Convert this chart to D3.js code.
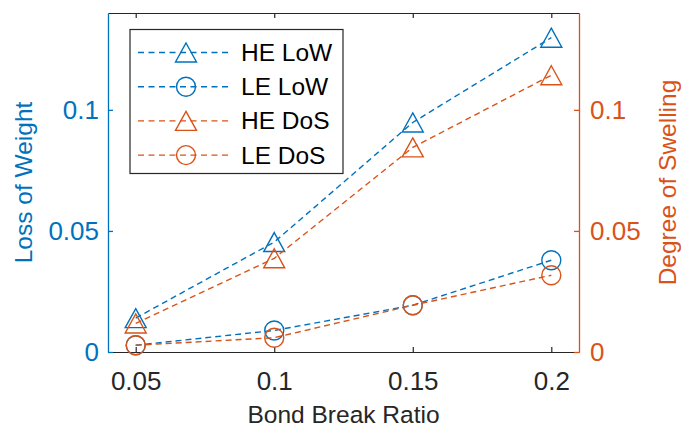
<!DOCTYPE html>
<html>
<head>
<meta charset="utf-8">
<script src="https://cdn.jsdelivr.net/npm/d3@7"></script>
<style>
  body { margin: 0; background: #fff; }
  svg { font-family: "Liberation Sans", Arial, sans-serif; }
</style>
</head>
<body>
<svg id="chart" width="681" height="430"></svg>
<script>
// data
var ratios = [0.05, 0.1, 0.15, 0.2];
var heLoW = [0.0140, 0.0454, 0.0948, 0.1298];
var leLoW = [0.0028, 0.0089, 0.0193, 0.0379];
var heDoS = [0.0118, 0.0387, 0.0845, 0.1143];
var leDoS = [0.0028, 0.0059, 0.0193, 0.0317];
var xTicks = [0.05, 0.1, 0.15, 0.2];
var xTickLabels = ['0.05', '0.1', '0.15', '0.2'];
var yTicks = [0, 0.05, 0.1];
var yTickLabels = ['0', '0.05', '0.1'];
var legendNames = ['HE LoW', 'LE LoW', 'HE DoS', 'LE DoS'];

var BLUE = '#0072BD', ORANGE = '#D95319', GRAY = '#262626';

var svg = d3.select('#chart');
var plotLeft = 108, plotRight = 579, plotTop = 13, plotBottom = 352;

var x = d3.scaleLinear().domain([0.04, 0.21]).range([plotLeft, plotRight]);
var yL = d3.scaleLinear().domain([0, 0.14]).range([plotBottom, plotTop]);
var yR = d3.scaleLinear().domain([0, 0.14]).range([plotBottom, plotTop]);

// top box line
svg.append('g')
    .attr('transform', 'translate(0,' + plotTop + ')')
    .call(d3.axisTop(x).tickValues(xTicks).tickSizeInner(-5).tickSizeOuter(0).tickFormat(''))
    .call(function (g) {
        g.selectAll('path,line').attr('stroke', GRAY).attr('stroke-width', 1.2);
    });

// bottom axis
svg.append('g')
    .attr('transform', 'translate(0,' + plotBottom + ')')
    .call(d3.axisBottom(x).tickValues(xTicks).tickSizeInner(-5).tickSizeOuter(0).tickPadding(20)
        .tickFormat(function (d, i) { return xTickLabels[i]; }))
    .call(function (g) {
        g.selectAll('path,line').attr('stroke', GRAY).attr('stroke-width', 1.2);
        g.selectAll('text').attr('fill', GRAY).style('font-size', '26px').attr('font-family', null);
    });

// left axis
svg.append('g')
    .attr('transform', 'translate(' + plotLeft + ',0)')
    .call(d3.axisLeft(yL).tickValues(yTicks).tickSizeInner(-5).tickSizeOuter(0).tickPadding(9)
        .tickFormat(function (d, i) { return yTickLabels[i]; }))
    .call(function (g) {
        g.selectAll('path,line').attr('stroke', BLUE).attr('stroke-width', 1.3);
        g.selectAll('text').attr('fill', BLUE).style('font-size', '26px').attr('font-family', null);
    });

// right axis
svg.append('g')
    .attr('transform', 'translate(' + plotRight + ',0)')
    .call(d3.axisRight(yR).tickValues(yTicks).tickSizeInner(-5).tickSizeOuter(0).tickPadding(11)
        .tickFormat(function (d, i) { return yTickLabels[i]; }))
    .call(function (g) {
        g.selectAll('path,line').attr('stroke', ORANGE).attr('stroke-width', 1.3);
        g.selectAll('text').attr('fill', ORANGE).style('font-size', '26px').attr('font-family', null);
    });

// axis titles
svg.append('text')
    .attr('x', (plotLeft + plotRight) / 2).attr('y', 423)
    .attr('text-anchor', 'middle').attr('fill', GRAY)
    .style('font-size', '24.5px')
    .text('Bond Break Ratio');

svg.append('text')
    .attr('transform', 'translate(32,' + (plotTop + plotBottom) / 2 + ') rotate(-90)')
    .attr('text-anchor', 'middle').attr('fill', BLUE)
    .style('font-size', '24.5px')
    .text('Loss of Weight');

svg.append('text')
    .attr('transform', 'translate(676,' + (plotTop + plotBottom) / 2 + ') rotate(-90)')
    .attr('text-anchor', 'middle').attr('fill', ORANGE)
    .style('font-size', '24.5px')
    .text('Degree of Swelling');

var series = [
    { vals: heLoW, color: BLUE, marker: 'tri', y: yL },
    { vals: leLoW, color: BLUE, marker: 'circ', y: yL },
    { vals: heDoS, color: ORANGE, marker: 'tri', y: yR },
    { vals: leDoS, color: ORANGE, marker: 'circ', y: yR }
];

function triPath(w, h) {
    return 'M0,' + (-h / 2) + 'L' + (w / 2) + ',' + (h / 2) + 'L' + (-w / 2) + ',' + (h / 2) + 'Z';
}

function drawMarker(g, type, color) {
    if (type === 'tri') {
        g.append('path').attr('d', triPath(21, 19))
            .attr('fill', 'none').attr('stroke', color).attr('stroke-width', 1.4);
    } else {
        g.append('circle').attr('r', 9.5)
            .attr('fill', 'none').attr('stroke', color).attr('stroke-width', 1.4);
    }
}

var plot = svg.append('g');
series.forEach(function (s) {
    var line = d3.line()
        .x(function (d, i) { return x(ratios[i]); })
        .y(function (d) { return s.y(d); });
    plot.append('path')
        .datum(s.vals)
        .attr('d', line)
        .attr('fill', 'none')
        .attr('stroke', s.color)
        .attr('stroke-width', 1.4)
        .attr('stroke-dasharray', '6,4');
    s.vals.forEach(function (v, i) {
        var m = plot.append('g').attr('transform', 'translate(' + x(ratios[i]) + ',' + s.y(v) + ')');
        drawMarker(m, s.marker, s.color);
    });
});

// legend
var legend = svg.append('g');
legend.append('rect')
    .attr('x', 130).attr('y', 29.5).attr('width', 213).attr('height', 144)
    .attr('fill', '#fff').attr('stroke', GRAY).attr('stroke-width', 1.2);

series.forEach(function (s, i) {
    var cy = 52.5 + i * 34.2;
    legend.append('line')
        .attr('x1', 138).attr('x2', 229).attr('y1', cy).attr('y2', cy)
        .attr('stroke', s.color).attr('stroke-width', 1.4)
        .attr('stroke-dasharray', '6,4.5');
    var m = legend.append('g').attr('transform', 'translate(186,' + cy + ')');
    drawMarker(m, s.marker, s.color);
    legend.append('text')
        .attr('x', 241).attr('y', cy).attr('dy', '0.35em')
        .attr('fill', '#000')
        .style('font-size', '24.5px')
        .text(legendNames[i]);
});
</script>
</body>
</html>
